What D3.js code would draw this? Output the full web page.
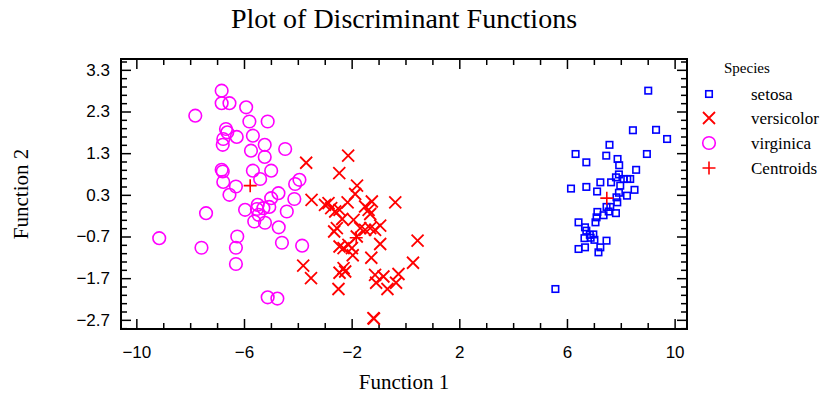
<!DOCTYPE html>
<html>
<head>
<meta charset="utf-8">
<script src="https://cdn.jsdelivr.net/npm/d3@7"></script>
<style>
  body { margin: 0; background: #fff; }
  .serif { font-family: "Liberation Serif", "Times New Roman", serif; }
  .tick text { font-family: "Liberation Sans", Arial, sans-serif; font-size: 17px; fill: #000; }
</style>
</head>
<body>
<svg id="chart" width="822" height="396"></svg>
<script>
// Function 1 / Function 2 scores
const setosaF1 = [9.02, 8.45, 9.31, 9.72, 7.58, 6.32, 6.72, 7.46, 7.88, 7.94, 8.97, 8.57, 7.82, 7.93, 8.11, 8.24, 8.35, 7.24, 7.64, 7.98,
  6.15, 6.72, 7.12, 8.51, 8.23, 7.93, 7.84, 7.87, 7.47, 7.61, 7.13, 7.55, 7.82, 7.36, 7.10, 7.06, 6.43, 6.67, 6.72, 6.85,
  6.98, 6.65, 6.88, 7.02, 7.47, 6.43, 6.67, 7.24, 7.17, 5.57];
const setosaF2 = [2.80, 1.85, 1.86, 1.64, 1.50, 1.28, 1.08, 1.24, 1.16, 1.01, 1.28, 0.90, 0.72, 0.79, 0.68, 0.68, 0.68, 0.60, 0.60, 0.52,
  0.45, 0.49, 0.38, 0.42, 0.28, 0.35, 0.24, 0.12, 0.01, 0.01, -0.11, -0.10, -0.14, -0.19, -0.24, -0.36, -0.36, -0.48, -0.56, -0.66,
  -0.65, -0.74, -0.73, -0.78, -0.80, -1.00, -0.96, -0.96, -1.08, -1.96];

const versicolorF1 = [-2.13, -3.69, -2.46, -1.80, -1.87, -3.49, -2.99, -2.86, -2.76, -2.61, -2.45, -2.15, -1.50, -1.37, -1.25, -1.31, -0.38, -2.35,
  -1.93, -2.65, -2.55, -1.68, -1.50, -1.31, -1.13, -0.94, -1.81, -2.45, -2.30, -2.12, -1.99, -0.94, 0.45, -1.96, -1.27, -3.80,
  -3.51, 0.28, -2.30, -2.45, -2.24, -2.49, -1.13, -1.09, -0.82, -0.26, -0.35, -0.67, -1.19, -1.17];
const versicolorF2 = [1.24, 1.07, 0.82, 0.52, 0.32, 0.18, 0.06, 0.10, -0.02, -0.10, -0.06, 0.12, 0.02, -0.06, 0.14, -0.16, 0.12, -0.28,
  -0.30, -0.58, -0.50, -0.50, -0.54, -0.50, -0.54, -0.44, -0.70, -0.94, -0.98, -0.90, -0.98, -0.88, -0.80, -1.15, -1.21, -1.40,
  -1.70, -1.33, -1.46, -1.57, -1.54, -1.96, -1.62, -1.81, -1.66, -1.60, -1.81, -1.96, -2.66, -2.67];

const virginicaF1 = [-6.83, -6.83, -6.54, -7.81, -5.92, -5.80, -5.12, -6.67, -6.62, -6.77, -6.79, -6.27, -5.67, -5.23, -5.74, -5.23, -4.47, -6.83,
  -6.79, -5.67, -4.99, -5.40, -6.77, -6.30, -6.54, -4.10, -3.94, -4.72, -4.99, -4.13, -7.41, -5.96, -5.52, -5.28, -5.06, -5.46,
  -5.62, -5.22, -4.41, -4.71, -9.15, -6.25, -6.30, -7.58, -6.30, -4.59, -3.84, -5.12, -4.76, -5.49];
const virginicaF2 = [2.80, 2.50, 2.50, 2.20, 2.40, 2.06, 2.06, 1.88, 1.80, 1.64, 1.50, 1.69, 1.72, 1.50, 1.36, 1.21, 1.40, 0.90,
  0.86, 0.88, 0.88, 0.68, 0.61, 0.50, 0.30, 0.56, 0.66, 0.34, 0.22, 0.20, -0.14, -0.06, -0.04, -0.02, 0.01, -0.18,
  -0.34, -0.37, -0.10, -0.48, -0.74, -0.70, -0.97, -0.97, -1.36, -0.85, -0.92, -2.16, -2.19, 0.06];

const centroidF1 = [7.48, -1.83, -5.77];
const centroidF2 = [0.22, -0.73, 0.52];

const xTicks = [-10, -6, -2, 2, 6, 10];
const yTicks = [-2.7, -1.7, -0.7, 0.3, 1.3, 2.3, 3.3];
const legendLabels = ["setosa", "versicolor", "virginica", "Centroids"];

const blue = "#0000ff", red = "#ff0000", magenta = "#ff00ff";

const svg = d3.select("#chart");
const margin = { top: 59, right: 135, bottom: 67, left: 121 };
const width = 822 - margin.left - margin.right,
  height = 396 - margin.top - margin.bottom;

const x = d3.scaleLinear().domain([-10.57, 10.46]).range([0, width]);
const y = d3.scaleLinear().domain([-2.92, 3.56]).range([height, 0]);

const g = svg.append("g").attr("transform", "translate(" + margin.left + "," + margin.top + ")");

// minor ticks
const xMinor = d3.range(-10, 11, 1).filter(function (v) { return xTicks.indexOf(v) < 0; });
const yMinor = d3.range(-2.9, 3.6, 0.2).map(function (v) { return +v.toFixed(1); })
  .filter(function (v) { return yTicks.indexOf(v) < 0 && v > -2.92 && v < 3.56; });

function addAxis(axis, tr, cls) {
  const a = g.append("g").attr("class", cls).attr("transform", tr).call(axis);
  a.select(".domain").remove();
  a.selectAll("line").attr("stroke", "#000").attr("stroke-width", 1.5);
  return a;
}

// majors with labels
addAxis(d3.axisBottom(x).tickValues(xTicks).tickSize(-10).tickPadding(17).tickFormat(d3.format("d")), "translate(0," + height + ")", "axis x");
addAxis(d3.axisLeft(y).tickValues(yTicks).tickSize(-10).tickPadding(11).tickFormat(d3.format(".1f")), null, "axis y");
addAxis(d3.axisTop(x).tickValues(xTicks).tickSize(-10).tickFormat(""), null, "axis");
addAxis(d3.axisRight(y).tickValues(yTicks).tickSize(-10).tickFormat(""), "translate(" + width + ",0)", "axis");
// minors
addAxis(d3.axisBottom(x).tickValues(xMinor).tickSize(-6).tickFormat(""), "translate(0," + height + ")", "axis");
addAxis(d3.axisTop(x).tickValues(xMinor).tickSize(-6).tickFormat(""), null, "axis");
addAxis(d3.axisLeft(y).tickValues(yMinor).tickSize(-6).tickFormat(""), null, "axis");
addAxis(d3.axisRight(y).tickValues(yMinor).tickSize(-6).tickFormat(""), "translate(" + width + ",0)", "axis");

g.append("rect")
  .attr("width", width).attr("height", height)
  .attr("fill", "none").attr("stroke", "#000").attr("stroke-width", 2);

// marker shapes
function square(sel, s) {
  sel.append("rect").attr("x", -s / 2).attr("y", -s / 2).attr("width", s).attr("height", s)
    .attr("fill", "none").attr("stroke", blue).attr("stroke-width", 1.6);
}
function cross(sel, s) {
  sel.append("path").attr("d", "M" + -s + "," + -s + "L" + s + "," + s + "M" + -s + "," + s + "L" + s + "," + -s)
    .attr("fill", "none").attr("stroke", red).attr("stroke-width", 1.8);
}
function ring(sel, r) {
  sel.append("circle").attr("r", r).attr("fill", "none").attr("stroke", magenta).attr("stroke-width", 1.6);
}
function plus(sel, s) {
  sel.append("path").attr("d", "M" + -s + ",0H" + s + "M0," + -s + "V" + s)
    .attr("fill", "none").attr("stroke", red).attr("stroke-width", 1.6);
}

function points(f1, f2, cls) {
  return g.selectAll("." + cls)
    .data(f1.map(function (d, i) { return [d, f2[i]]; }))
    .enter().append("g")
    .attr("class", cls)
    .attr("transform", function (d) { return "translate(" + x(d[0]) + "," + y(d[1]) + ")"; });
}

points(virginicaF1, virginicaF2, "virginica").call(ring, 6.3);
points(versicolorF1, versicolorF2, "versicolor").call(cross, 6);
points(setosaF1, setosaF2, "setosa").call(square, 6.5);
points(centroidF1, centroidF2, "centroid").call(plus, 6.5);

// titles
svg.append("text").attr("class", "serif")
  .attr("x", margin.left + width / 2).attr("y", 28)
  .attr("text-anchor", "middle").attr("font-size", 28)
  .text("Plot of Discriminant Functions");
svg.append("text").attr("class", "serif")
  .attr("x", margin.left + width / 2).attr("y", 389)
  .attr("text-anchor", "middle").attr("font-size", 21)
  .text("Function 1");
svg.append("text").attr("class", "serif")
  .attr("transform", "translate(28," + (margin.top + height / 2) + ") rotate(-90)")
  .attr("text-anchor", "middle").attr("font-size", 21)
  .text("Function 2");

// legend
const legend = svg.append("g").attr("transform", "translate(709,0)");
legend.append("text").attr("class", "serif").attr("x", 15).attr("y", 73)
  .attr("font-size", 15).text("Species");
const rowY = [94, 118, 143, 168];
const makers = [function (s) { square(s, 6.5); }, function (s) { cross(s, 6); }, function (s) { ring(s, 6.3); }, function (s) { plus(s, 6.5); }];
legendLabels.forEach(function (lab, i) {
  const row = legend.append("g").attr("transform", "translate(0," + rowY[i] + ")");
  makers[i](row);
  row.append("text").attr("class", "serif").attr("x", 42).attr("y", 5.5)
    .attr("font-size", 17).text(lab);
});
</script>
</body>
</html>
